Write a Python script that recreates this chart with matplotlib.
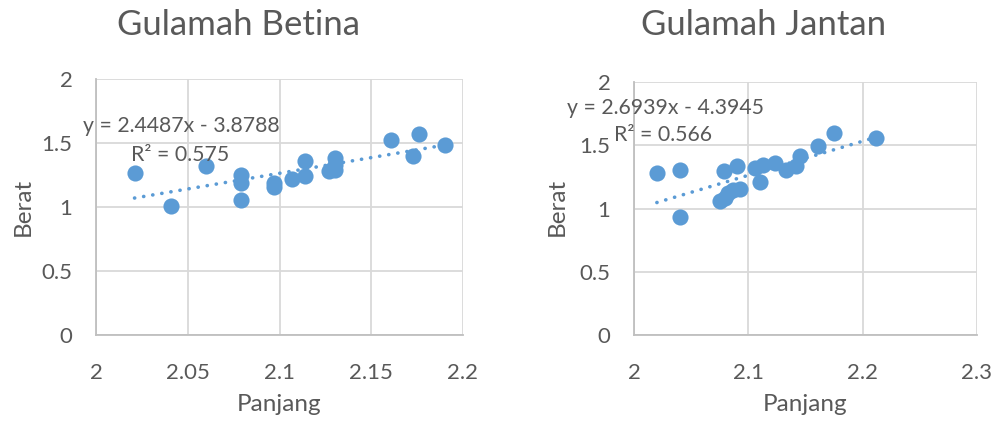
import matplotlib
matplotlib.use("Agg")
import matplotlib.pyplot as plt
import numpy as np

# ---- data ----
betina_panjang = [2.021, 2.041, 2.060, 2.079, 2.079, 2.079, 2.097, 2.097, 2.107, 2.114,
                  2.114, 2.127, 2.130, 2.130, 2.130, 2.161, 2.176, 2.173, 2.190]
betina_berat = [1.266, 1.010, 1.317, 1.252, 1.190, 1.057, 1.190, 1.160, 1.220, 1.362,
                1.245, 1.278, 1.383, 1.330, 1.291, 1.526, 1.572, 1.395, 1.487]
betina_slope, betina_intercept = 2.4487, -3.8788
betina_eq = "y = 2.4487x - 3.8788"
betina_r2 = "R² = 0.575"

jantan_panjang = [2.020, 2.040, 2.040, 2.075, 2.080, 2.082, 2.087, 2.093, 2.079, 2.090,
                  2.106, 2.110, 2.113, 2.123, 2.133, 2.142, 2.145, 2.161, 2.175, 2.212]
jantan_berat = [1.282, 1.305, 0.931, 1.062, 1.080, 1.120, 1.146, 1.151, 1.298, 1.335,
                1.317, 1.211, 1.343, 1.361, 1.304, 1.335, 1.414, 1.495, 1.598, 1.558]
jantan_slope, jantan_intercept = 2.6939, -4.3945
jantan_eq = "y = 2.6939x - 4.3945"
jantan_r2 = "R² = 0.566"

titles = ["Gulamah Betina", "Gulamah Jantan"]
xlabel = "Panjang"
ylabel = "Berat"
yticks = [0, 0.5, 1, 1.5, 2]
xticks_left = [2, 2.05, 2.1, 2.15, 2.2]
xticks_right = [2, 2.1, 2.2, 2.3]

# ---- style ----
FONT = "Lato"
TXT = "#595959"
GRID = "#d9d9d9"
DOT = "#5b9bd5"
W, H = 996, 423
plt.rcParams["font.family"] = [FONT, "DejaVu Sans"]

fig = plt.figure(figsize=(W / 100, H / 100), dpi=100)


def px_axes(x0, y0, x1, y1):
    return fig.add_axes([x0 / W, 1 - y1 / H, (x1 - x0) / W, (y1 - y0) / H])


def make_panel(ax, xs, ys, slope, intercept, xticks, xlim, title, eq, r2,
               title_x, ylab_x, xlab_x, eq_pos, r2_pos):
    ax.set_xlim(*xlim)
    ax.set_ylim(0, 2)
    ax.set_xticks(xticks)
    ax.set_yticks(yticks)
    ax.set_xticklabels([f"{t:g}" for t in xticks])
    ax.set_yticklabels([f"{t:g}" for t in yticks])
    ax.grid(True, color=GRID, linewidth=1.3)
    ax.set_axisbelow(True)
    for s in ["top", "right"]:
        ax.spines[s].set_visible(False)
    for s in ["left", "bottom"]:
        ax.spines[s].set_color("#bfbfbf")
        ax.spines[s].set_linewidth(1.3)
    ax.tick_params(length=0, labelsize=16, labelcolor=TXT)
    ax.tick_params(axis="y", pad=17)
    ax.tick_params(axis="x", pad=20)
    ax.scatter(xs, ys, s=135, color=DOT, zorder=3, linewidths=0)
    xx = np.array([min(xs), max(xs)])
    ax.plot(xx, slope * xx + intercept, color=DOT, linewidth=2.6,
            linestyle=(0, (0.05, 2.5)), dash_capstyle="round", zorder=4)
    fig.text(title_x / W, 1 - 25 / H, title, ha="center", va="center",
             fontsize=25, color=TXT)
    fig.text(ylab_x / W, 1 - 207 / H, ylabel, ha="center", va="center",
             rotation=90, fontsize=17.5, color=TXT)
    fig.text(xlab_x / W, 1 - 404 / H, xlabel, ha="center", va="center",
             fontsize=17.5, color=TXT)
    fig.text(eq_pos[0] / W, 1 - eq_pos[1] / H, eq, ha="left", va="center",
             fontsize=15.3, color=TXT)
    fig.text(r2_pos[0] / W, 1 - r2_pos[1] / H, r2, ha="left", va="center",
             fontsize=15.3, color=TXT)


axL = px_axes(96, 79, 463, 335)
make_panel(axL, betina_panjang, betina_berat, betina_slope, betina_intercept,
           xticks_left, (2, 2.2), titles[0], betina_eq, betina_r2,
           238, 23, 279, (83, 126), (131, 155))

axR = px_axes(634, 82, 977, 335)
make_panel(axR, jantan_panjang, jantan_berat, jantan_slope, jantan_intercept,
           xticks_right, (2, 2.3), titles[1], jantan_eq, jantan_r2,
           764, 557, 805, (567, 108), (614, 135))

fig.savefig("out.png", dpi=100)
